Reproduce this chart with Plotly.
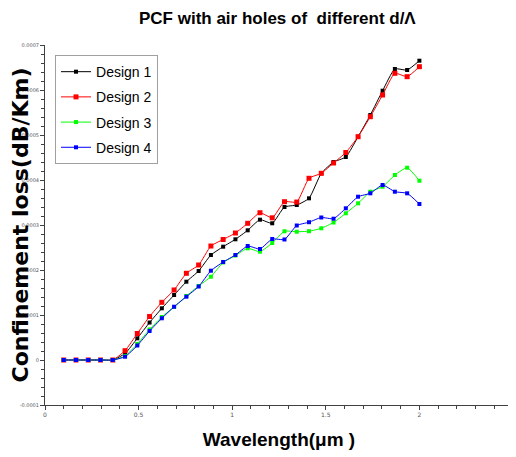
import plotly.graph_objects as go

wavelength = [0.1, 0.1655, 0.2310, 0.2966, 0.3621, 0.4276, 0.4931, 0.5586, 0.6241, 0.6897,
              0.7552, 0.8207, 0.8862, 0.9517, 1.0172, 1.0828, 1.1483, 1.2138, 1.2793, 1.3448,
              1.4103, 1.4759, 1.5414, 1.6069, 1.6724, 1.7379, 1.8034, 1.8690, 1.9345, 2.0]

design1 = [0, 0, 0, 0, 0, 1.44e-5, 4.82e-5, 8.33e-5, 1.149e-4, 1.444e-4,
           1.74e-4, 1.978e-4, 2.333e-4, 2.518e-4, 2.682e-4, 2.882e-4, 3.118e-4, 3.038e-4, 3.40e-4, 3.444e-4,
           3.593e-4, 4.149e-4, 4.40e-4, 4.511e-4, 4.962e-4, 5.444e-4, 5.984e-4, 6.467e-4, 6.444e-4, 6.651e-4]
design2 = [0, 0, 0, 0, 0, 2.07e-5, 5.89e-5, 9.67e-5, 1.282e-4, 1.556e-4,
           1.927e-4, 2.111e-4, 2.533e-4, 2.678e-4, 2.822e-4, 3.038e-4, 3.273e-4, 3.16e-4, 3.518e-4, 3.51e-4,
           4.038e-4, 4.149e-4, 4.378e-4, 4.611e-4, 4.962e-4, 5.407e-4, 5.889e-4, 6.371e-4, 6.296e-4, 6.518e-4]
design3 = [0, 0, 0, 0, 0, 8.9e-6, 3.56e-5, 6.78e-5, 9.56e-5, 1.178e-4,
           1.422e-4, 1.644e-4, 1.851e-4, 2.167e-4, 2.322e-4, 2.482e-4, 2.407e-4, 2.60e-4, 2.86e-4, 2.851e-4,
           2.862e-4, 2.927e-4, 3.056e-4, 3.26e-4, 3.482e-4, 3.74e-4, 3.851e-4, 4.111e-4, 4.273e-4, 3.984e-4]
design4 = [0, 0, 0, 0, 0, 7.3e-6, 3.22e-5, 6.44e-5, 9.27e-5, 1.184e-4,
           1.407e-4, 1.633e-4, 1.984e-4, 2.178e-4, 2.333e-4, 2.533e-4, 2.467e-4, 2.689e-4, 2.678e-4, 2.989e-4,
           3.062e-4, 3.167e-4, 3.14e-4, 3.371e-4, 3.629e-4, 3.704e-4, 3.889e-4, 3.74e-4, 3.704e-4, 3.467e-4]

series_names = ["Design 1", "Design 2", "Design 3", "Design 4"]
series_colors = ["#000000", "#ff0000", "#00ff00", "#0000ff"]
marker_sizes = [4, 5, 4, 4]

x_tickvals = [0, 0.5, 1, 1.5, 2, 2.5]
x_ticktext = ["0", "0.5", "1", "1.5", "2", "2.5"]
y_tickvals = [-0.0001, 0, 0.0001, 0.0002, 0.0003, 0.0004, 0.0005, 0.0006, 0.0007]
y_ticktext = ["-0.0001", "0", "0.0001", "0.0002", "0.0003", "0.0004", "0.0005", "0.0006", "0.0007"]

fig = go.Figure()
for name, ys, col, ms in zip(series_names, [design1, design2, design3, design4], series_colors, marker_sizes):
    fig.add_trace(go.Scatter(
        x=wavelength, y=ys, name=name, legendgroup=name, mode="lines+markers",
        line=dict(color=col, width=1, shape="spline", smoothing=0.5),
        marker=dict(symbol="square", size=ms, color=col),
    ))

sans = "Liberation Sans, Arial, sans-serif"

fig.update_layout(
    width=516, height=457,
    margin=dict(l=37, r=11, t=37, b=60),
    paper_bgcolor="white", plot_bgcolor="white",
    title=dict(text="<b>PCF with air holes of  different d/\u039b</b>",
               font=dict(family=sans, size=17, color="#000000"),
               x=0.522, xanchor="center", y=0.978, yanchor="middle"),
    legend=dict(x=0.0214, y=0.972, xanchor="left", yanchor="top",
                bordercolor="#a0a0a0", borderwidth=1, bgcolor="white",
                font=dict(family=sans, size=14, color="#000000"),
                itemwidth=30, tracegroupgap=4),
    showlegend=True,
)

fig.update_xaxes(
    range=[0, 2.5], tickvals=x_tickvals, ticktext=x_ticktext,
    showline=True, linecolor="#404040", linewidth=1,
    ticks="outside", ticklen=4, tickcolor="#404040",
    tickfont=dict(family="DejaVu Sans", size=6, color="#555555"),
    minor=dict(dtick=0.1, ticks="outside", ticklen=3, tickcolor="#404040"),
    showgrid=False, zeroline=False, automargin=False,
    title=dict(text="<b>Wavelength(\u03bcm )</b>", font=dict(family=sans, size=19, color="#000000"),
               standoff=15),
)
fig.update_yaxes(
    range=[-0.0001, 0.0007], tickvals=y_tickvals, ticktext=y_ticktext,
    showline=True, linecolor="#404040", linewidth=1,
    ticks="outside", ticklen=4, tickcolor="#404040",
    tickfont=dict(family="DejaVu Sans", size=5, color="#555555"),
    minor=dict(dtick=0.00002, ticks="outside", ticklen=3, tickcolor="#404040"),
    showgrid=False, zeroline=False, automargin=False,
    title=dict(text="<b>Confinement loss(dB/Km)</b>", font=dict(family="DejaVu Sans", size=22, color="#000000"),
               standoff=9),
)

fig.write_html("out.html")
